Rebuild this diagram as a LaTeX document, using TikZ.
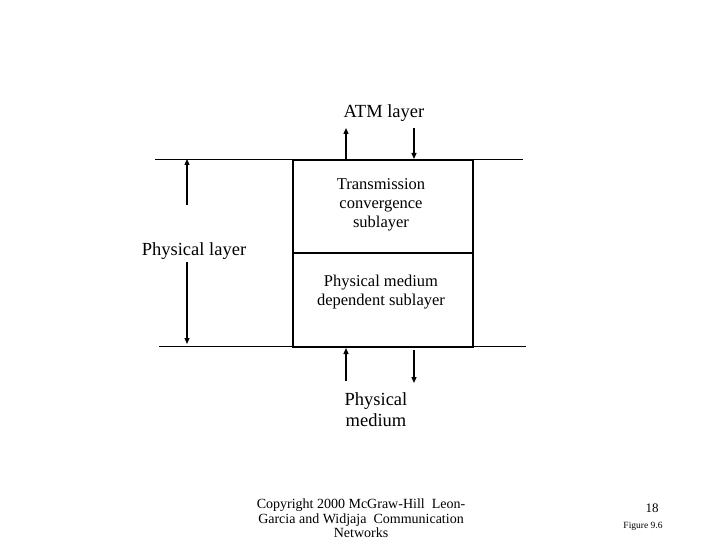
\documentclass[tikz,border=0pt]{standalone}
\usepackage{fontspec}
\setmainfont{Liberation Serif}
\usetikzlibrary{arrows.meta}
\begin{document}
\begin{tikzpicture}[x=1pt,y=-1pt,
  lbl/.style={font=\fontsize{18.5}{21}\selectfont, align=center, inner sep=0pt},
  boxlbl/.style={font=\fontsize{16.5}{19}\selectfont, align=center, inner sep=0pt},
  arr/.style={line width=1.3pt, -{Triangle[length=6pt,width=5pt]}},
  thin/.style={line width=0.8pt},
  boxline/.style={line width=2pt}]
\useasboundingbox (0,0) rectangle (720,540);
% horizontal lines
\coordinate (tl) at (155,159);
\coordinate (tr) at (523,159);
\coordinate (bl) at (159,346);
\coordinate (br) at (526,346);
\draw[thin] (tl) -- (tr);
\draw[thin] (bl) -- (br);
% box
\node[draw, boxline, minimum width=180pt, minimum height=93pt, inner sep=0pt, anchor=north west] (tc) at (292,159) {};
\node[draw, boxline, minimum width=180pt, minimum height=94pt, inner sep=0pt, anchor=north west] (pmd) at (292,252) {};
\node[boxlbl] (tctext) at (381,205) {Transmission\\convergence\\sublayer};
\node[boxlbl] (pmdtext) at (381,292) {Physical medium\\dependent sublayer};
% ATM layer
\node[lbl] (atm) at (384,113) {ATM layer};
\draw[arr] (346,159) -- (346,128);
\draw[arr] (414,128) -- (414,159);
% physical medium
\node[lbl] (pm) at (376,410) {Physical\\medium};
\draw[arr] (346,381) -- (346,348);
\draw[arr] (414,350) -- (414,383);
% physical layer
\node[lbl] (pl) at (194,251) {Physical layer};
\draw[arr] (187,205) -- (187,159);
\draw[arr] (187,262) -- (187,344);
% footer
\node[font=\fontsize{14}{14.5}\selectfont, align=center, anchor=north, inner sep=0pt] (copy) at (361,499) {Copyright 2000 McGraw-Hill\ \ Leon-\\Garcia and Widjaja\ \ Communication\\Networks};
\node[font=\fontsize{13}{15}\selectfont, inner sep=0pt] (num) at (652,508) {18};
\node[font=\fontsize{9.5}{11}\selectfont, inner sep=0pt] (fig) at (643,526) {Figure 9.6};
\end{tikzpicture}
\end{document}
